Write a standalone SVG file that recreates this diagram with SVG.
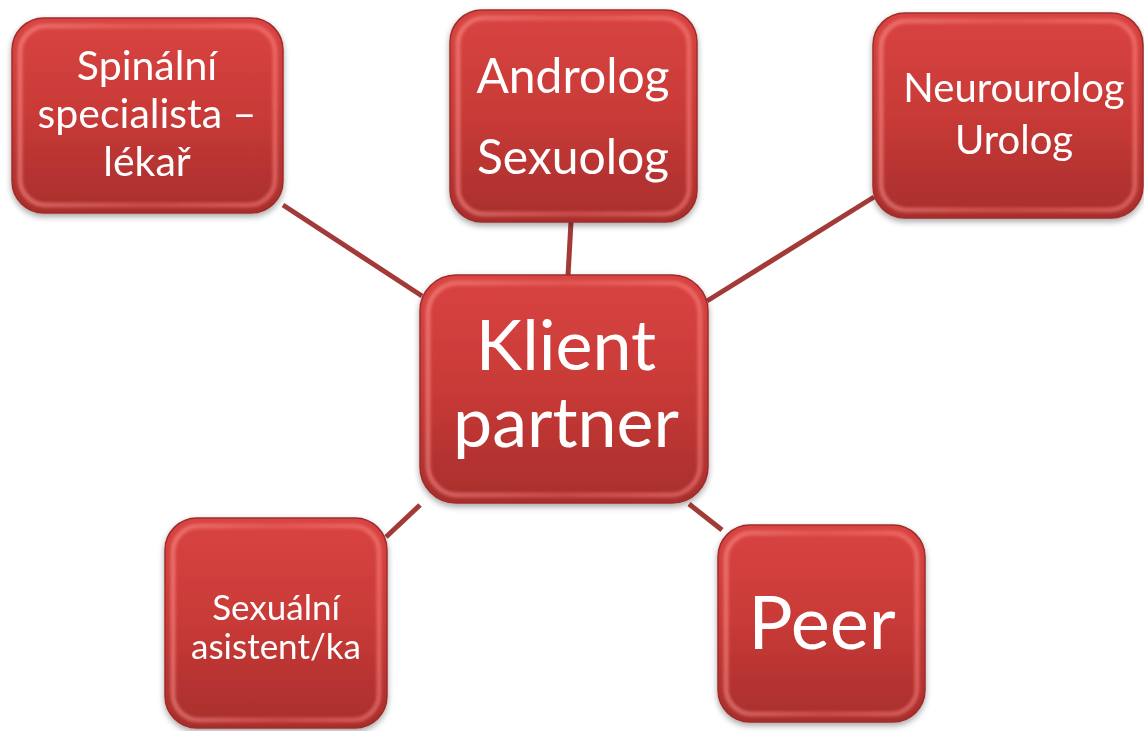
<svg xmlns="http://www.w3.org/2000/svg" width="1144" height="731" viewBox="0 0 1144 731">
<style>
.box{fill:url(#g);stroke:#9e2c2b;stroke-width:1.5}
.hl{fill:none;stroke:url(#hg);stroke-width:5;opacity:0.5;filter:url(#bl)}
.t{fill:#ffffff;font-family:Lato,"Open Sans",sans-serif;text-anchor:middle}
.c{stroke:#a23a38;stroke-width:5;fill:none}
</style>
<defs>
<linearGradient id="g" x1="0" y1="0" x2="0" y2="1">
<stop offset="0" stop-color="#d94441"/>
<stop offset="0.5" stop-color="#c83a37"/>
<stop offset="1" stop-color="#a82e2c"/>
</linearGradient>
<linearGradient id="hg" x1="0" y1="0" x2="1" y2="0">
<stop offset="0" stop-color="#ff9a96"/>
<stop offset="0.5" stop-color="#e86a66"/>
<stop offset="1" stop-color="#ff8a86"/>
</linearGradient>
<filter id="sh" x="-10%" y="-10%" width="120%" height="125%">
<feGaussianBlur in="SourceAlpha" stdDeviation="3"/>
<feOffset dx="0" dy="3" result="b"/>
<feComponentTransfer><feFuncA type="linear" slope="0.35"/></feComponentTransfer>
<feMerge><feMergeNode/><feMergeNode in="SourceGraphic"/></feMerge>
</filter>
<filter id="bl"><feGaussianBlur stdDeviation="1.5"/></filter>
</defs>
<g id="connectors">
<line class="c" x1="283" y1="205" x2="422" y2="296"/>
<line class="c" x1="571" y1="222" x2="568" y2="276"/>
<line class="c" x1="874" y1="197" x2="707" y2="301"/>
<line class="c" x1="386" y1="537" x2="420" y2="505"/>
<line class="c" x1="689" y1="504" x2="722" y2="530"/>
</g>
<g id="spinalni" filter="url(#sh)">
<rect class="box" x="12" y="18" width="271" height="195" rx="32"/>
<rect class="hl" x="20" y="26" width="255" height="179" rx="26"/>
<text class="t" font-size="41"><tspan x="147" y="80">Spinální</tspan><tspan x="147" y="128">specialista –</tspan><tspan x="147" y="176">lékař</tspan></text>
</g>
<g id="androlog" filter="url(#sh)">
<rect class="box" x="450" y="10" width="247" height="212" rx="32"/>
<rect class="hl" x="458" y="18" width="231" height="196" rx="26"/>
<text class="t" font-size="48"><tspan x="573" y="93">Androlog</tspan><tspan x="573" y="174">Sexuolog</tspan></text>
</g>
<g id="neurourolog" filter="url(#sh)">
<rect class="box" x="873" y="13" width="270" height="205" rx="32"/>
<rect class="hl" x="881" y="21" width="254" height="189" rx="26"/>
<text class="t" font-size="40"><tspan x="1014" y="102">Neurourolog</tspan><tspan x="1014" y="154">Urolog</tspan></text>
</g>
<g id="klient" filter="url(#sh)">
<rect class="box" x="420" y="275" width="288" height="228" rx="36"/>
<rect class="hl" x="428" y="283" width="272" height="212" rx="30"/>
<text class="t" font-size="70"><tspan x="566" y="370">Klient</tspan><tspan x="566" y="447">partner</tspan></text>
</g>
<g id="sexualni" filter="url(#sh)">
<rect class="box" x="165" y="518" width="222" height="210" rx="32"/>
<rect class="hl" x="173" y="526" width="206" height="194" rx="26"/>
<text class="t" font-size="35"><tspan x="276" y="620">Sexuální</tspan><tspan x="276" y="659">asistent/ka</tspan></text>
</g>
<g id="peer" filter="url(#sh)">
<rect class="box" x="718" y="525" width="207" height="197" rx="32"/>
<rect class="hl" x="726" y="533" width="191" height="181" rx="26"/>
<text class="t" font-size="74"><tspan x="822" y="649">Peer</tspan></text>
</g>
</svg>
